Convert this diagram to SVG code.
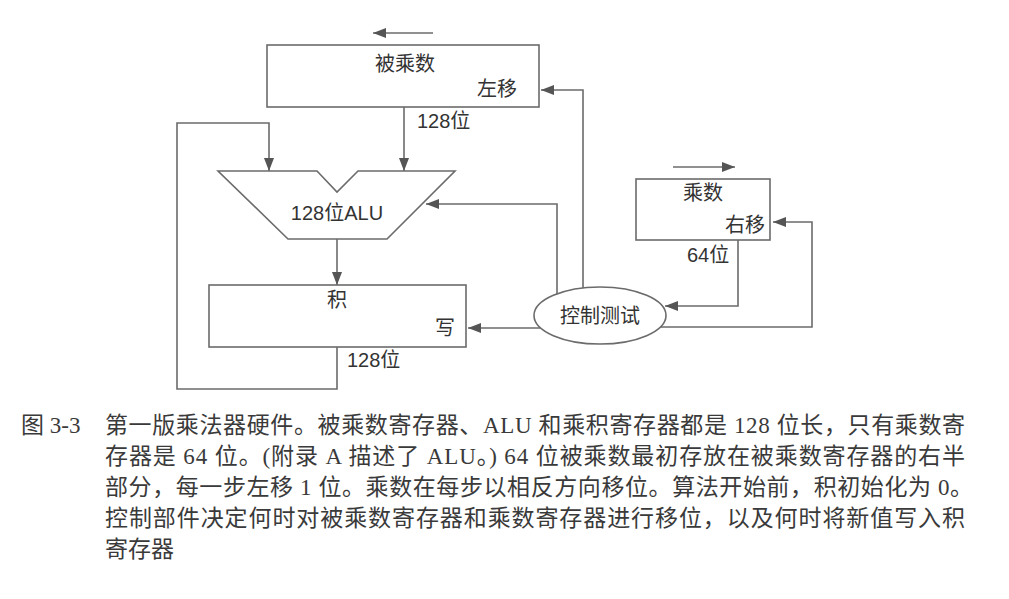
<svg xmlns="http://www.w3.org/2000/svg" width="1009" height="599" viewBox="0 0 1009 599">
<style>
.box{fill:#fff;stroke:#6b6b6b;stroke-width:1.6}
.ln{fill:none;stroke:#6b6b6b;stroke-width:1.6}
.t{font-family:"Liberation Sans","Noto Sans CJK SC",sans-serif;font-size:20px;fill:#333}
.c{font-family:"Liberation Serif","Noto Sans CJK SC",serif;font-size:23px;fill:#3a3a3a}
</style>
<defs>
<marker id="ah" viewBox="0 0 13 10" refX="13" refY="5" markerWidth="13" markerHeight="10" markerUnits="userSpaceOnUse" orient="auto">
<path d="M0,0 L13,5 L0,10 z" fill="#555"/>
</marker>
</defs>
<rect width="1009" height="599" fill="#fff"/>
<g id="connectors">
<line class="ln" x1="433" y1="33" x2="373" y2="33" marker-end="url(#ah)"/>
<line class="ln" x1="673" y1="167" x2="735" y2="167" marker-end="url(#ah)"/>
<polyline class="ln" points="404,107 404,171" marker-end="url(#ah)"/>
<polyline class="ln" points="337,347 337,389 177,389 177,123 269,123 269,171" marker-end="url(#ah)"/>
<polyline class="ln" points="337,239 337,285" marker-end="url(#ah)"/>
<polyline class="ln" points="557,294 557,204 426,204" marker-end="url(#ah)"/>
<polyline class="ln" points="583,288 583,90 541,90" marker-end="url(#ah)"/>
<polyline class="ln" points="540,328 468,328" marker-end="url(#ah)"/>
<polyline class="ln" points="738,240 738,306 665,306" marker-end="url(#ah)"/>
<polyline class="ln" points="660,327 812,327 812,222 773,222" marker-end="url(#ah)"/>
</g>
<g id="multiplicand">
<rect class="box" x="267" y="45" width="272" height="62"/>
<text class="t" x="405" y="71" text-anchor="middle">被乘数</text>
<text class="t" x="517" y="96" text-anchor="end">左移</text>
<text class="t" x="417" y="128">128位</text>
</g>
<g id="alu">
<polygon class="box" points="218,171 317,171 337,192 358,171 455,171 387,239 288,239"/>
<text class="t" x="337" y="220" text-anchor="middle">128位ALU</text>
</g>
<g id="multiplier">
<rect class="box" x="636" y="179" width="134" height="61"/>
<text class="t" x="703" y="200" text-anchor="middle">乘数</text>
<text class="t" x="765" y="232" text-anchor="end">右移</text>
<text class="t" x="687" y="262">64位</text>
</g>
<g id="product">
<rect class="box" x="209" y="285" width="257" height="62"/>
<text class="t" x="337" y="307" text-anchor="middle">积</text>
<text class="t" x="455" y="335" text-anchor="end">写</text>
<text class="t" x="347" y="367">128位</text>
</g>
<g id="control">
<ellipse class="box" cx="600" cy="315.5" rx="66" ry="28.5"/>
<text class="t" x="600" y="323" text-anchor="middle">控制测试</text>
</g>
<g id="caption">
<text class="c" x="21" y="433">图 3-3</text>
<text class="c" x="105" y="433" textLength="860" lengthAdjust="spacing">第一版乘法器硬件。被乘数寄存器、ALU 和乘积寄存器都是 128 位长，只有乘数寄</text>
<text class="c" x="105" y="464" textLength="860" lengthAdjust="spacing">存器是 64 位。(附录 A 描述了 ALU。) 64 位被乘数最初存放在被乘数寄存器的右半</text>
<text class="c" x="105" y="495" textLength="868" lengthAdjust="spacing">部分，每一步左移 1 位。乘数在每步以相反方向移位。算法开始前，积初始化为 0。</text>
<text class="c" x="105" y="526" textLength="860" lengthAdjust="spacing">控制部件决定何时对被乘数寄存器和乘数寄存器进行移位，以及何时将新值写入积</text>
<text class="c" x="105" y="557">寄存器</text>
</g>
</svg>
